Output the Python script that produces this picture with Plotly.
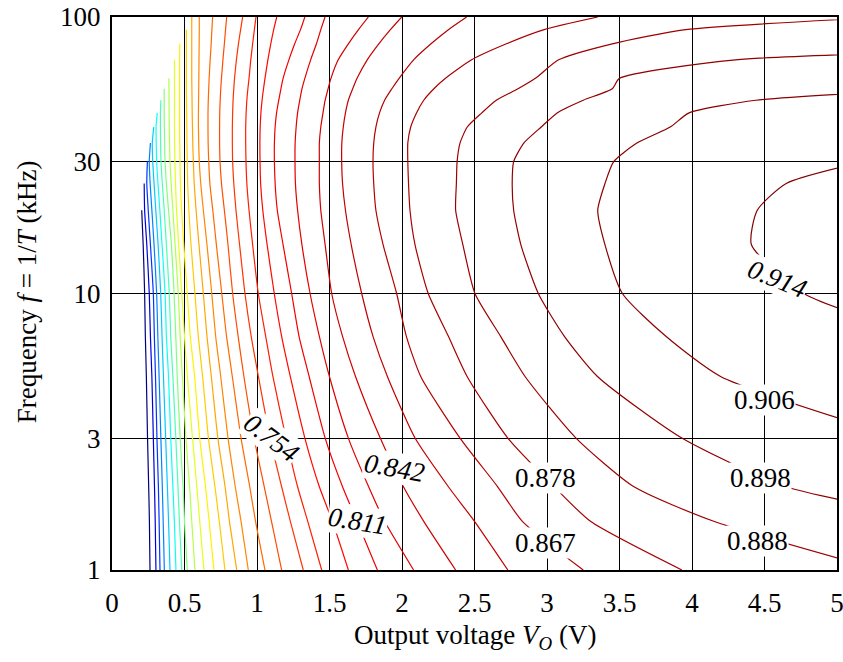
import math
import plotly.graph_objects as go
from plotly.colors import sample_colorscale

# ---------------- data ----------------
FREQ = [1, 1.5, 2, 3, 5, 7, 10, 15, 20, 25, 30, 35, 40, 45, 50, 55, 60, 70, 80, 90, 100]  # kHz

LEVELS = [0.914, 0.906, 0.898, 0.888, 0.878, 0.867, 0.854, 0.842, 0.826, 0.811,
          0.793, 0.774, 0.754, 0.731, 0.706, 0.680, 0.650, 0.618, 0.583, 0.545,
          0.504, 0.458, 0.409, 0.354, 0.295, 0.231, 0.161, 0.084, 0.0]

N = None
# Output voltage (V) of each contour line at the frequencies in FREQ
VO = [
    [N, N, N, N, N, 5.6, 4.77, 4.41, 4.45, 4.65, 5.19, N, N, N, N, N, N, N, N, N, N],
    [N, N, N, 5.45, 4.2, 3.82, 3.52, 3.4, 3.35, 3.4, 3.46, 3.62, 3.85, 3.98, 4.44, 5.7, N, N, N, N, N],
    [N, 5.8, 4.65, 3.93, 3.35, 3.12, 2.94, 2.82, 2.77, 2.76, 2.77, 2.84, 2.96, 3.07, 3.25, 3.45, 3.5, 4.3, 8.0, N, N],
    [5.3, 4.15, 3.6, 3.2, 2.85, 2.68, 2.503, 2.42, 2.37, 2.375, 2.38, 2.40, 2.45, 2.55, 2.65, 2.8, 2.92, 3.08, 3.45, 3.955, 5.37],
    [3.93, 3.3, 3.05, 2.73, 2.45, 2.32, 2.181, 2.09, 2.055, 2.045, 2.04, 2.04, 2.06, 2.1, 2.15, 2.22, 2.3, 2.48, 2.72, 2.98, 3.35],
    [3.25, 2.83, 2.66, 2.4, 2.13, 2.03, 1.963, 1.87, 1.82, 1.805, 1.80, 1.805, 1.82, 1.845, 1.88, 1.93, 1.98, 2.08, 2.2, 2.32, 2.446],
    [2.73, 2.5, 2.32, 2.09, 1.9, 1.8, 1.722, 1.65, 1.61, 1.59, 1.584, 1.585, 1.595, 1.61, 1.63, 1.66, 1.69, 1.76, 1.84, 1.92, 1.998],
    [2.37, 2.15, 2.01, 1.85, 1.68, 1.59, 1.515, 1.47, 1.44, 1.43, 1.43, 1.43, 1.44, 1.455, 1.47, 1.49, 1.51, 1.56, 1.63, 1.7, 1.768],
    [2.08, 1.88, 1.77, 1.63, 1.5, 1.43, 1.366, 1.31, 1.28, 1.265, 1.262, 1.263, 1.27, 1.28, 1.295, 1.31, 1.33, 1.37, 1.41, 1.44, 1.469],
    [1.83, 1.69, 1.59, 1.47, 1.36, 1.29, 1.239, 1.18, 1.14, 1.125, 1.12, 1.12, 1.125, 1.135, 1.15, 1.165, 1.18, 1.22, 1.26, 1.3, 1.33],
    [1.63, 1.52, 1.43, 1.33, 1.23, 1.17, 1.119, 1.07, 1.04, 1.025, 1.021, 1.02, 1.022, 1.027, 1.035, 1.045, 1.055, 1.075, 1.095, 1.115, 1.136],
    [1.446, 1.35, 1.28, 1.2, 1.11, 1.06, 1.009, 0.97, 0.945, 0.93, 0.924, 0.922, 0.922, 0.925, 0.93, 0.937, 0.945, 0.957, 0.97, 0.982, 0.993],
    [1.319, 1.23, 1.17, 1.09, 1.01, 0.96, 0.917, 0.88, 0.855, 0.84, 0.832, 0.83, 0.83, 0.832, 0.835, 0.84, 0.845, 0.858, 0.872, 0.887, 0.901],
    [1.17, 1.1, 1.05, 0.98, 0.91, 0.87, 0.832, 0.80, 0.775, 0.755, 0.745, 0.742, 0.742, 0.743, 0.746, 0.75, 0.755, 0.765, 0.775, 0.783, 0.791],
    [1.055, 0.99, 0.95, 0.89, 0.83, 0.79, 0.757, 0.72, 0.695, 0.675, 0.667, 0.663, 0.662, 0.662, 0.664, 0.667, 0.67, 0.677, 0.684, 0.689, 0.694],
    [0.94, 0.89, 0.85, 0.8, 0.75, 0.715, 0.688, 0.655, 0.63, 0.612, 0.602, 0.598, 0.596, 0.596, 0.597, 0.598, 0.599, 0.6, 0.601, 0.602, 0.602],
    [0.86, 0.81, 0.78, 0.73, 0.685, 0.655, 0.63, 0.6, 0.58, 0.567, 0.561, 0.557, 0.555, 0.553, 0.552, 0.551, 0.55, 0.55, 0.55, 0.55, 0.55],
    [0.779, 0.74, 0.71, 0.665, 0.625, 0.595, 0.572, 0.545, 0.53, 0.522, 0.519, 0.517, 0.516, 0.515, 0.514, 0.513, 0.513, 0.513, 0.513, 0.513, N],
    [0.703, 0.67, 0.645, 0.605, 0.57, 0.54, 0.519, 0.495, 0.48, 0.472, 0.469, 0.467, 0.466, 0.466, 0.466, 0.466, 0.466, 0.466, 0.468, N, N],
    [0.634, 0.605, 0.585, 0.555, 0.52, 0.5, 0.481, 0.46, 0.445, 0.438, 0.434, 0.432, 0.431, 0.431, 0.431, 0.431, 0.431, 0.431, N, N, N],
    [0.572, 0.55, 0.535, 0.51, 0.485, 0.47, 0.457, 0.435, 0.42, 0.408, 0.40, 0.397, 0.395, 0.394, 0.393, 0.393, 0.392, N, N, N, N],
    [0.519, 0.5, 0.49, 0.47, 0.45, 0.44, 0.428, 0.41, 0.39, 0.375, 0.366, 0.363, 0.361, 0.36, 0.36, 0.36, N, N, N, N, N],
    [0.481, 0.465, 0.455, 0.44, 0.42, 0.405, 0.395, 0.375, 0.36, 0.347, 0.338, 0.335, 0.334, 0.334, 0.337, N, N, N, N, N, N],
    [0.441, 0.43, 0.42, 0.405, 0.39, 0.375, 0.366, 0.345, 0.33, 0.317, 0.308, 0.305, 0.304, 0.312, N, N, N, N, N, N, N],
    [0.40, 0.39, 0.382, 0.37, 0.355, 0.345, 0.336, 0.318, 0.302, 0.29, 0.281, 0.278, 0.288, N, N, N, N, N, N, N, N],
    [0.361, 0.353, 0.347, 0.337, 0.325, 0.316, 0.308, 0.29, 0.275, 0.263, 0.257, 0.265, N, N, N, N, N, N, N, N, N],
    [0.331, 0.325, 0.32, 0.31, 0.3, 0.292, 0.285, 0.265, 0.25, 0.24, 0.244, N, N, N, N, N, N, N, N, N, N],
    [0.303, 0.298, 0.293, 0.285, 0.275, 0.265, 0.257, 0.24, 0.225, 0.222, N, N, N, N, N, N, N, N, N, N, N],
    [0.262, 0.258, 0.253, 0.245, 0.237, 0.23, 0.225, 0.215, 0.205, N, N, N, N, N, N, N, N, N, N, N, N],
]

LABEL_TEXT = ["0.914", "0.906", "0.898", "0.888", "0.878", "0.867", "0.842", "0.811", "0.754"]
LABEL_VO = [4.59, 4.50, 4.47, 4.45, 2.99, 2.99, 1.95, 1.69, 1.10]
LABEL_F = [11.3, 4.12, 2.15, 1.27, 2.15, 1.25, 2.34, 1.50, 3.0]
LABEL_ANGLE = [22, 0, 0, 0, 0, 0, 10, 9, 37]

X_TICKS = [0, 0.5, 1, 1.5, 2, 2.5, 3, 3.5, 4, 4.5, 5]
Y_TICKS = [1, 3, 10, 30, 100]

# ---------------- figure ----------------
JET = [[0, 'rgb(0,0,128)'], [0.125, 'rgb(0,0,255)'], [0.375, 'rgb(0,255,255)'],
       [0.625, 'rgb(255,255,0)'], [0.875, 'rgb(255,0,0)'], [1, 'rgb(128,0,0)']]
FONT = 'Liberation Serif'

fig = go.Figure()
lo, hi = min(LEVELS), max(LEVELS)
for lev, row in zip(LEVELS, VO):
    t = (lev - lo) / (hi - lo)
    color = sample_colorscale(JET, [t])[0]
    fig.add_trace(go.Scatter(
        x=row, y=FREQ, mode='lines', connectgaps=False,
        line=dict(color=color, width=1.2, shape='spline', smoothing=0.6),
        showlegend=False, hoverinfo='skip'))

for txt, vo, f, ang in zip(LABEL_TEXT, LABEL_VO, LABEL_F, LABEL_ANGLE):
    fig.add_annotation(
        x=vo, y=math.log10(f), xref='x', yref='y',
        text=("<i>%s</i>" % txt) if ang else txt,
        textangle=ang, showarrow=False, xanchor='center', yanchor='middle',
        bgcolor='white', borderpad=0,
        font=dict(family=FONT, size=27, color='black'))

fig.add_annotation(x=0.5, y=-0.121, xref='paper', yref='paper',
                   text='Output voltage <i>V</i><sub><i>O</i></sub> (V)',
                   showarrow=False, xanchor='center', yanchor='middle',
                   font=dict(family=FONT, size=27, color='black'))
fig.add_annotation(x=-0.118, y=0.503, xref='paper', yref='paper',
                   text='Frequency <i>f</i> = 1/<i>T</i> (kHz)', textangle=-90,
                   showarrow=False, xanchor='center', yanchor='middle',
                   font=dict(family=FONT, size=27, color='black'))

fig.update_layout(
    width=843, height=662,
    margin=dict(l=112, r=6, t=17, b=92, autoexpand=False),
    plot_bgcolor='white', paper_bgcolor='white',
    font=dict(family=FONT, size=27, color='black'),
    showlegend=False,
)
fig.update_xaxes(
    range=[0, 5], tickvals=X_TICKS, ticktext=[('%g' % v) for v in X_TICKS],
    showgrid=True, gridcolor='black', gridwidth=1, zeroline=False,
    showline=True, linecolor='black', linewidth=2, mirror=True, automargin=False,
    ticks='', ticklabelstandoff=8, ticklabeloverflow='allow',
    tickfont=dict(family=FONT, size=27, color='black'))
fig.update_yaxes(
    type='log', range=[0, 2], tickvals=Y_TICKS, ticktext=[str(v) for v in Y_TICKS],
    showgrid=True, gridcolor='black', gridwidth=1, zeroline=False,
    showline=True, linecolor='black', linewidth=2, mirror=True, automargin=False,
    ticks='', ticklabelstandoff=4, ticklabeloverflow='allow',
    tickfont=dict(family=FONT, size=27, color='black'))

fig.write_html('out.html')
